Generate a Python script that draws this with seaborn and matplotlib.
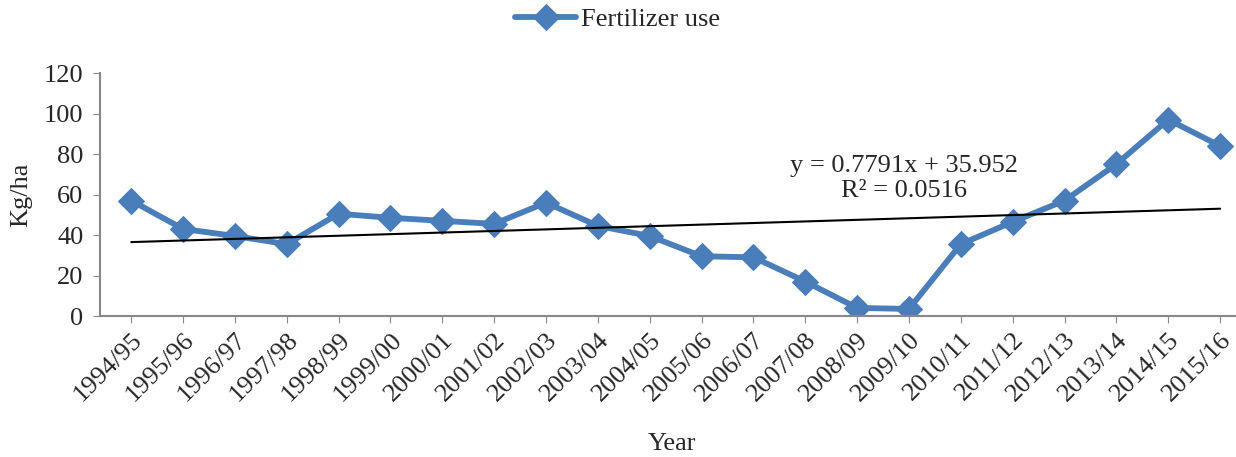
import numpy as np
import pandas as pd
import matplotlib
matplotlib.use('Agg')
import matplotlib.pyplot as plt
import seaborn as sns

# data
seasons = ['1994/95', '1995/96', '1996/97', '1997/98', '1998/99', '1999/00',
           '2000/01', '2001/02', '2002/03', '2003/04', '2004/05', '2005/06',
           '2006/07', '2007/08', '2008/09', '2009/10', '2010/11', '2011/12',
           '2012/13', '2013/14', '2014/15', '2015/16']
fertilizer = [57, 43, 39.5, 35.5, 50.5, 48.5, 47, 45.5, 56, 44.5, 39.5, 29.5,
              29, 17, 4, 3.5, 35.5, 46.5, 57, 75, 97, 84]
trend_text = 'y = 0.7791x + 35.952\nR² = 0.0516'

df = pd.DataFrame({'pos': np.arange(len(seasons)), 'season': seasons,
                   'kg': fertilizer})

sns.set_style('white')
plt.rcParams['font.family'] = ['Liberation Serif', 'DejaVu Serif']

fig = plt.figure(figsize=(12.36, 4.57), dpi=100)
ax = fig.add_axes([0.081, 0.3085, 0.925, 0.5317])

blue = '#4A7EBB'
sns.lineplot(x='pos', y='kg', data=df, ax=ax, color=blue, linewidth=4.2,
             marker='D', markersize=13, markeredgecolor=blue,
             label='Fertilizer use')
# linear trend line
sns.regplot(x='pos', y='kg', data=df, ax=ax, scatter=False, ci=None,
            color='black', line_kws={'linewidth': 1.5})

ax.text(14.9, 68, trend_text, ha='center', va='center', fontsize=19,
        linespacing=1.15)

ax.set_xlim(-0.6, 21.45)
ax.set_ylim(0, 120)
ax.set_yticks(range(0, 121, 20))
ax.set_xticks(df['pos'])
ax.set_xticklabels(seasons, rotation=45, ha='right', rotation_mode='anchor')
ax.tick_params(axis='both', labelsize=19, length=5, color='#888888',
               direction='out', bottom=True, left=True)
ax.tick_params(axis='x', pad=4)
ax.tick_params(axis='y', pad=7)
sns.despine(ax=ax)
for side in ['left', 'bottom']:
    ax.spines[side].set_color('#888888')
    ax.spines[side].set_linewidth(1.5)

ax.set_xlabel('Year', fontsize=19, labelpad=20)
ax.set_ylabel('Kg/ha', fontsize=19, labelpad=8)

ax.get_legend().remove()
handles, labels = ax.get_legend_handles_labels()
fig.legend(handles[:1], labels[:1], loc='upper center',
           bbox_to_anchor=(0.5, 1.035), frameon=False, fontsize=19,
           handlelength=2.3, handletextpad=0.2)

fig.savefig('out.png', dpi=100)
